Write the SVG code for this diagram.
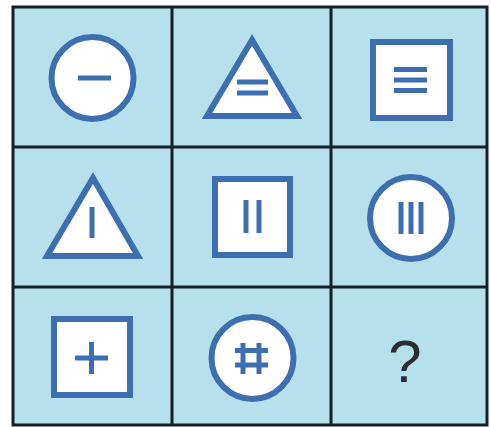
<svg xmlns="http://www.w3.org/2000/svg" width="491" height="427" viewBox="0 0 491 427">
<style>
.cell{fill:#b6e0ec}
.grid{stroke:#15202a;stroke-width:3;fill:none}
.shape{fill:#ffffff;stroke:#3d6fb0;stroke-width:6}
.mark{stroke:#3d6fb0;stroke-width:5;fill:none;stroke-linecap:butt}
.q{font-family:"Liberation Sans",Arial,sans-serif;font-size:60px;fill:#2a2e33;text-anchor:middle}
</style>
<rect x="0" y="0" width="491" height="427" fill="#ffffff"/>
<rect class="cell" x="13" y="7" width="474" height="418"/>
<g id="c1">
<circle class="shape" cx="92.5" cy="78" r="41"/>
<line class="mark" x1="78" y1="78" x2="111" y2="78"/>
</g>
<g id="c2">
<polygon class="shape" points="252,40 207,116 297,116"/>
<line class="mark" x1="237" y1="82" x2="268" y2="82"/>
<line class="mark" x1="237" y1="93" x2="268" y2="93"/>
</g>
<g id="c3">
<rect class="shape" x="373" y="42" width="77" height="76"/>
<line class="mark" x1="394" y1="69.5" x2="427" y2="69.5"/>
<line class="mark" x1="394" y1="80" x2="427" y2="80"/>
<line class="mark" x1="394" y1="90.5" x2="427" y2="90.5"/>
</g>
<g id="c4">
<polygon class="shape" points="93,178 47,256 138,256"/>
<line class="mark" x1="92" y1="207" x2="92" y2="238"/>
</g>
<g id="c5">
<rect class="shape" x="215" y="179" width="75" height="76"/>
<line class="mark" x1="246" y1="200" x2="246" y2="233"/>
<line class="mark" x1="259" y1="200" x2="259" y2="233"/>
</g>
<g id="c6">
<circle class="shape" cx="411" cy="218" r="41"/>
<line class="mark" x1="401" y1="202" x2="401" y2="234"/>
<line class="mark" x1="411" y1="202" x2="411" y2="234"/>
<line class="mark" x1="421" y1="202" x2="421" y2="234"/>
</g>
<g id="c7">
<rect class="shape" x="54" y="319" width="76" height="76"/>
<line class="mark" x1="75" y1="358" x2="108" y2="358"/>
<line class="mark" x1="91.5" y1="342" x2="91.5" y2="374"/>
</g>
<g id="c8">
<circle class="shape" cx="252.5" cy="358" r="41"/>
<line class="mark" x1="235" y1="350.5" x2="268" y2="350.5"/>
<line class="mark" x1="235" y1="365" x2="268" y2="365"/>
<line class="mark" x1="243" y1="343" x2="243" y2="374"/>
<line class="mark" x1="259" y1="343" x2="259" y2="374"/>
</g>
<g id="c9">
<text class="q" x="405" y="382">?</text>
</g>
<g id="grid">
<rect class="grid" x="13" y="7" width="474" height="418"/>
<line class="grid" x1="172" y1="7" x2="172" y2="425"/>
<line class="grid" x1="331" y1="7" x2="331" y2="425"/>
<line class="grid" x1="13" y1="147" x2="487" y2="147"/>
<line class="grid" x1="13" y1="287" x2="487" y2="287"/>
</g>
</svg>
